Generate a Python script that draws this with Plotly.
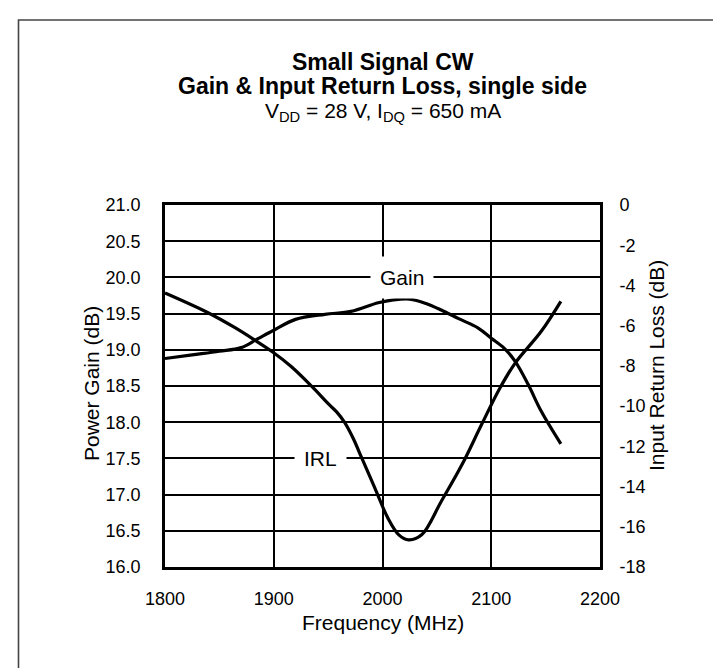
import plotly.graph_objects as go

# ---- data ----
gain_freq = [1800, 1825, 1850, 1870, 1885, 1900, 1920, 1947, 1971, 1996, 2010,
             2025, 2040, 2054, 2070, 2088, 2100, 2112, 2122, 2134, 2146, 2164]
gain_db = [18.88, 18.93, 18.98, 19.03, 19.15, 19.27, 19.42, 19.49, 19.53, 19.65, 19.69,
           19.70, 19.64, 19.55, 19.43, 19.30, 19.16, 19.02, 18.84, 18.52, 18.15, 17.70]

irl_freq = [1800, 1840, 1864, 1882, 1899, 1916, 1935, 1951, 1958, 1965, 1973, 1981, 1993,
            2005, 2015, 2024, 2036, 2054, 2073, 2091, 2108, 2122, 2146, 2164]
irl_db = [-4.38, -5.37, -6.09, -6.70, -7.31, -8.03, -9.02, -9.93, -10.30, -10.80, -11.60, -12.59, -14.08,
          -15.57, -16.40, -16.65, -16.40, -14.74, -12.92, -10.93, -9.10, -7.86, -6.28, -4.79]

x_ticks = [1800, 1900, 2000, 2100, 2200]
gain_ticks = [16.0, 16.5, 17.0, 17.5, 18.0, 18.5, 19.0, 19.5, 20.0, 20.5, 21.0]
irl_ticks = [0, -2, -4, -6, -8, -10, -12, -14, -16, -18]

FONT = "Arial, 'Liberation Sans', sans-serif"

# plot-area pixel geometry (used only to place texts in paper coordinates)
PL, PR, PT, PB = 157, 592, 197, 559


def px(x):
    return (x - PL) / (PR - PL)


def py(y):
    return (PB - y) / (PB - PT)


fig = go.Figure()
fig.add_trace(go.Scatter(x=gain_freq, y=gain_db, mode="lines", name="Gain",
                         line=dict(color="black", width=3.2, shape="spline", smoothing=1.0),
                         yaxis="y"))
fig.add_trace(go.Scatter(x=irl_freq, y=irl_db, mode="lines", name="IRL",
                         line=dict(color="black", width=3.2, shape="spline", smoothing=1.0),
                         yaxis="y2"))

fig.update_layout(
    width=721, height=668,
    margin=dict(l=PL, r=721 - PR, t=PT, b=668 - PB),
    paper_bgcolor="white", plot_bgcolor="white",
    showlegend=False,
    font=dict(family=FONT, color="black", size=18),
    xaxis=dict(range=[1800, 2200], tickvals=x_ticks, ticktext=[str(v) for v in x_ticks],
               showgrid=True, gridcolor="black", gridwidth=1.5,
               showline=True, linecolor="black", linewidth=2.5, mirror=True,
               ticks="outside", ticklen=14, tickcolor="rgba(0,0,0,0)",
               tickfont=dict(size=18), zeroline=False),
    yaxis=dict(range=[16, 21], tickvals=gain_ticks, ticktext=[f"{v:.1f}" for v in gain_ticks],
               showgrid=True, gridcolor="black", gridwidth=1.5,
               showline=True, linecolor="black", linewidth=2.5, mirror=True,
               ticks="outside", ticklen=18, tickcolor="rgba(0,0,0,0)",
               tickfont=dict(size=18), zeroline=False),
    yaxis2=dict(range=[-18, 0], tickvals=irl_ticks, ticktext=[str(v) for v in irl_ticks],
                overlaying="y", side="right", showgrid=False, zeroline=False,
                showline=False,
                ticks="outside", ticklen=15, tickcolor="rgba(0,0,0,0)",
                tickfont=dict(size=18)),
)

# Axis titles
fig.add_annotation(text="Frequency (MHz)", xref="paper", yref="paper",
                   x=0.5, y=py(614), showarrow=False, font=dict(size=21),
                   xanchor="center", yanchor="middle")
fig.add_annotation(text="Power Gain (dB)", xref="paper", yref="paper",
                   x=px(83), y=py(376), showarrow=False, font=dict(size=21),
                   textangle=-90, xanchor="center", yanchor="middle")
fig.add_annotation(text="Input Return Loss (dB)", xref="paper", yref="paper",
                   x=px(648), y=py(358), showarrow=False, font=dict(size=21),
                   textangle=-90, xanchor="center", yanchor="middle")

# Titles
fig.add_annotation(text="<b>Small Signal CW</b>", xref="paper", yref="paper",
                   x=0.5, y=py(54), showarrow=False, font=dict(size=23),
                   xanchor="center", yanchor="middle")
fig.add_annotation(text="<b>Gain & Input Return Loss, single side</b>", xref="paper", yref="paper",
                   x=0.5, y=py(78), showarrow=False, font=dict(size=23),
                   xanchor="center", yanchor="middle")
fig.add_annotation(text="V<sub>DD</sub> = 28 V, I<sub>DQ</sub> = 650 mA", xref="paper", yref="paper",
                   x=0.5, y=py(104), showarrow=False, font=dict(size=21),
                   xanchor="center", yanchor="middle")

# Curve labels with white background
fig.add_annotation(text="Gain", x=2018, y=20.0, xref="x", yref="y", showarrow=False,
                   font=dict(size=21), bgcolor="white", borderpad=9)
fig.add_annotation(text="IRL", x=1943, y=17.5, xref="x", yref="y", showarrow=False,
                   font=dict(size=21), bgcolor="white", borderpad=9)

# Outer frame (left and top edges visible)
fig.add_shape(type="rect", xref="paper", yref="paper",
              x0=px(10.5), x1=px(740), y0=py(690), y1=py(12),
              line=dict(color="#444444", width=1.6), fillcolor="rgba(0,0,0,0)", layer="below")

fig.write_html("out.html")
